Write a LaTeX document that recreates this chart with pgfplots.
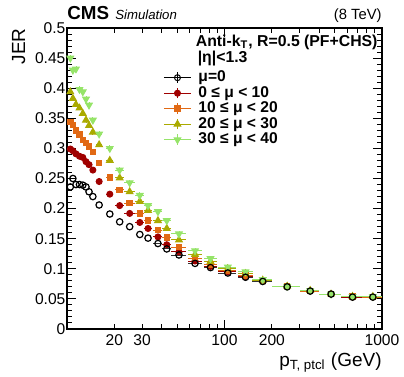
\documentclass[border=0pt]{standalone}
\usepackage{fontspec}
\setmainfont{Liberation Sans}
\usepackage{pgfplots}
\pgfplotsset{compat=1.18}
\usepackage{pgfplotstable}
\definecolor{cR}{RGB}{160,0,0}
\definecolor{cO}{RGB}{225,105,20}
\definecolor{cY}{RGB}{170,170,0}
\definecolor{cG}{RGB}{150,228,105}

\pgfplotstableread{
x     ex    ex0   c0     c1     c2     c3     c4
10.5  0.2   0     0.236  0.299  0.344  0.394  0.450
10.9  0.2   0     0.250  0.296  0.339  0.383  0.430
11.4  0.25  0     0.240  0.291  0.330  0.373  0.432
12.0  0.3   0     0.240  0.287  0.323  0.367  0.398
12.6  0.3   0     0.239  0.285  0.314  0.358  0.394
13.2  0.3   0     0.236  0.278  0.309  0.347  0.382
13.8  0.3   0     0.228  0.273  0.303  0.338  0.372
14.6  0.4   0     0.220  0.264  0.294  0.327  0.347
16.0  0.7   0     0.206  0.245  0.276  0.306  0.324
18.7  1.0   0     0.191  0.224  0.252  0.280  0.300
21.6  1.5   0     0.178  0.205  0.231  0.251  0.264
25.0  2.0   0     0.170  0.192  0.209  0.228  0.243
29.0  2.0   0     0.157  0.177  0.192  0.212  0.222
32.7  2.0   0     0.151  0.167  0.180  0.197  0.205
37.8  2.5   2.5   0.142  0.153  0.164  0.180  0.195
43.0  3.0   3.0   0.133  0.140  0.152  0.167  0.180
51.4  5.5   5.5   0.123  0.128  0.136  0.148  0.158
65.0  6.5   6.5   0.109  0.113  0.118  0.124  0.130
81.5  7.5   7.5   0.102  0.104  0.107  0.112  0.117
105   14    14    0.093  0.095  0.097  0.100  0.103
136   15    15    0.086  0.087  0.089  0.092  0.095
175   25    25    0.079  0.080  0.080  0.081  0.082
250   50    50    0.070  0.071  0.071  0.071  0.071
350   50    50    0.063  0.063  0.063  0.064  0.064
475   75    75    0.058  0.058  0.058  0.058  0.058
650   100   100   0.053  0.053  0.054  0.054  0.054
875   125   125   0.053  0.053  0.053  0.054  0.054
}\jer

\pgfplotsset{
  jerplot/.style={only marks, forget plot, line width=0.5pt,
    error bars/.cd, x dir=both, x explicit, y dir=both, y fixed=#1,
    error mark=none, error bar style={line width=0.45pt}},
}

\begin{document}
\begin{tikzpicture}
\begin{axis}[
  at={(0,0)}, anchor=south west,
  width=157.5pt, height=150.5pt, scale only axis,
  xmode=log, xmin=10, xmax=1000, ymin=0, ymax=0.5,
  xtick={100,1000}, xticklabels={100,1000},
  extra x ticks={20,30,200}, extra x tick labels={20,30,200},
  extra x tick style={major tick length=2.6pt},
  minor xtick={40,50,60,70,80,90,300,400,500,600,700,800,900},
  ytick={0,0.05,0.1,0.15,0.2,0.25,0.3,0.35,0.4,0.45,0.5},
  yticklabels={0,0.05,0.1,0.15,0.2,0.25,0.3,0.35,0.4,0.45,0.5},
  minor y tick num=4,
  tick align=inside, tick pos=both,
  major tick length=4.5pt, minor tick length=2.3pt,
  axis line style={line width=0.9pt},
  every tick/.style={line width=0.5pt, black},
  tick label style={font=\fontsize{7.8}{9}\selectfont},
  yticklabel style={inner sep=0.6pt},
  xticklabel style={inner sep=1.5pt, yshift=-1pt},
  xlabel={p\textsubscript{T, ptcl} (GeV)},
  ylabel={JER},
  every axis x label/.style={at={(axis description cs:1,-0.123)}, anchor=base east, font=\fontsize{9.5}{11}\selectfont, inner sep=0pt},
  every axis y label/.style={at={(axis description cs:-0.133,1)}, anchor=base east, rotate=90, font=\fontsize{9.5}{11}\selectfont, inner sep=0pt},
  clip=false,
  legend cell align=left,
  legend image code/.code={
    \draw[#1, mark=none] (0pt,0pt) -- (13.5pt,0pt);
    \draw[#1, mark=none] (6.75pt,-2.6pt) -- (6.75pt,2.6pt);
    \draw[#1] plot[only marks] coordinates {(6.75pt,0pt)};
  },
  legend style={at={(axis description cs:0.305,0.862)}, anchor=north west,
    draw=none, fill=none, inner sep=0pt, row sep=0pt,
    font=\fontsize{7.8}{7.75}\bfseries\selectfont,
    nodes={inner sep=0pt, text height=5.8pt, text depth=1.95pt},
    /tikz/every odd column/.append style={column sep=3.5pt}},
]
\addlegendimage{color=black, mark=o, mark size=1.5pt, line width=0.5pt}
\addlegendentry{μ=0}
\addlegendimage{color=cR, mark=*, mark size=1.5pt, line width=0.5pt}
\addlegendentry{0 ≤ μ < 10}
\addlegendimage{color=cO, mark=square*, mark size=1.35pt, line width=0.5pt}
\addlegendentry{10 ≤ μ < 20}
\addlegendimage{color=cY, mark=triangle*, mark size=1.9pt, line width=0.5pt}
\addlegendentry{20 ≤ μ < 30}
\addlegendimage{color=cG, mark=triangle*, mark size=1.9pt, mark options={rotate=180}, line width=0.5pt}
\addlegendentry{30 ≤ μ < 40}

% error bars of mu=0 drawn underneath
\addplot[draw=none, mark=none, forget plot,
  error bars/.cd, x dir=both, x explicit, error mark=none,
  error bar style={draw=black!80, line width=0.45pt}] table[x=x, y=c0, x error=ex0]{\jer};
\addplot[color=cR, mark=*, mark size=1.5pt, jerplot=0.003] table[x=x, y=c1, x error=ex]{\jer};
\addplot[color=cO, mark=square*, mark size=1.35pt, jerplot=0.003] table[x=x, y=c2, x error=ex]{\jer};
\addplot[color=cY, mark=triangle*, mark size=1.9pt, jerplot=0.004] table[x=x, y=c3, x error=ex]{\jer};
\addplot[color=cG, mark=triangle*, mark size=1.9pt, mark options={rotate=180}, jerplot=0.005] table[x=x, y=c4, x error=ex]{\jer};
% open circles of mu=0 on top
\addplot[color=black, mark=o, mark size=1.6pt, only marks, forget plot, mark options={line width=0.6pt}] table[x=x, y=c0]{\jer};

\node[anchor=base west, inner sep=0pt, font=\fontsize{9.4}{11}\bfseries\selectfont] at (axis description cs:0,1.027) {CMS};
\node[anchor=base west, inner sep=0pt, font=\fontsize{6.6}{8}\itshape\selectfont] at (axis description cs:0.152,1.027) {Simulation};
\node[anchor=base east, inner sep=0pt, font=\fontsize{7.4}{9}\selectfont] at (axis description cs:1,1.027) {(8 TeV)};
\node[anchor=base east, inner sep=0pt, font=\fontsize{7.9}{9}\bfseries\selectfont] at (axis description cs:0.987,0.9385) {Anti-k\textsubscript{T}, R=0.5 (PF+CHS)};
\node[anchor=base west, inner sep=0pt, font=\fontsize{7.9}{9}\bfseries\selectfont] at (axis description cs:0.414,0.887) {|η|<1.3};
\end{axis}
\path (-33.5pt,-24pt) rectangle (168.5pt,164.5pt);
\end{tikzpicture}
\end{document}
